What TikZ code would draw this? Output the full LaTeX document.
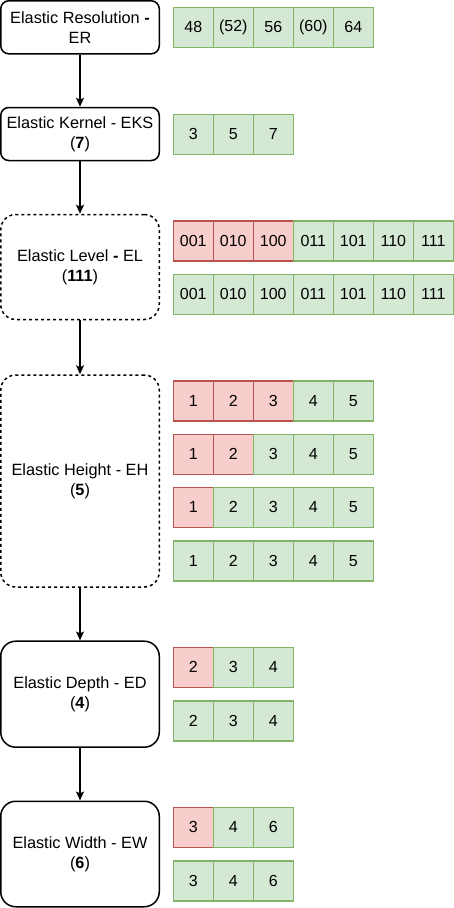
\documentclass[tikz,border=0pt]{standalone}
\usepackage{fontspec}
\setmainfont{Liberation Sans}
\usetikzlibrary{arrows.meta}

\definecolor{okfill}{HTML}{D5E8D4}
\definecolor{okline}{HTML}{82B366}
\definecolor{cutfill}{HTML}{F8CECC}
\definecolor{cutline}{HTML}{B85450}

\tikzset{
    stage/.style={draw, line width=1.5pt, minimum width=158.5pt, align=center,
        font=\fontsize{16.3}{20}\selectfont},
    cell/.style={draw=cl, fill=cf, minimum size=40pt, inner sep=0pt,
        font=\fontsize{16}{18}\selectfont},
    flow/.style={line width=1.5pt, -{Stealth[length=9pt,width=8pt,inset=2pt]}}
}

% name, y, red cells, thick row (0/1), labels
\newcommand{\cellrow}[5]{
    \foreach \lab [count=\i] in {#5} {
        \ifnum\i>#3 \colorlet{cf}{okfill}\colorlet{cl}{okline}\else\colorlet{cf}{cutfill}\colorlet{cl}{cutline}\fi
        \node[cell] (#1-\i) at ({153.3+40*\i},#2) {\lab};
        \ifnum#4=1
            \draw[cl, line width=1.5pt] (#1-\i.north west) -- (#1-\i.north east);
            \draw[cl, line width=1.5pt] (#1-\i.south west) -- (#1-\i.south east);
        \fi
    }
}

\begin{document}
\begin{tikzpicture}[x=1pt, y=-1pt]
    \useasboundingbox (0,0) rectangle (454,908);

    \node[stage, rounded corners=8pt, minimum height=53pt] (er) at (80,27.3) {Elastic Resolution \textbf{-}\\ER};
    \node[stage, rounded corners=8pt, minimum height=53pt] (eks) at (80,134) {Elastic Kernel - EKS\\(\textbf{7})};
    \node[stage, dashed, rounded corners=15pt, minimum height=105pt] (el) at (80,267) {Elastic Level \textbf{-} EL\\(\textbf{111})};
    \node[stage, dashed, rounded corners=15pt, minimum height=212pt] (eh) at (80,481) {Elastic Height - EH\\(\textbf{5})};
    \node[stage, rounded corners=15pt, minimum height=106pt] (ed) at (80,694.2) {Elastic Depth - ED\\(\textbf{4})};
    \node[stage, rounded corners=15pt, minimum height=105.5pt] (ew) at (80,854) {Elastic Width - EW\\(\textbf{6})};

    \draw[flow] (er) -- (eks);
    \draw[flow] (eks) -- (el);
    \draw[flow] (el) -- (eh);
    \draw[flow] (eh) -- (ed);
    \draw[flow] (ed) -- (ew);

    \cellrow{res}{27.3}{0}{0}{48,(52),56,(60),64}
    \cellrow{ker}{134}{0}{0}{3,5,7}
    \cellrow{lvla}{240.7}{3}{1}{001,010,100,011,101,110,111}
    \cellrow{lvlb}{294}{0}{0}{001,010,100,011,101,110,111}
    \cellrow{hgta}{400.7}{3}{1}{1,2,3,4,5}
    \cellrow{hgtb}{454}{2}{0}{1,2,3,4,5}
    \cellrow{hgtc}{507.3}{1}{0}{1,2,3,4,5}
    \cellrow{hgtd}{560.7}{0}{1}{1,2,3,4,5}
    \cellrow{dpta}{667.3}{1}{0}{2,3,4}
    \cellrow{dptb}{720.7}{0}{1}{2,3,4}
    \cellrow{wdta}{827.3}{1}{0}{3,4,6}
    \cellrow{wdtb}{880.7}{0}{1}{3,4,6}
\end{tikzpicture}
\end{document}
